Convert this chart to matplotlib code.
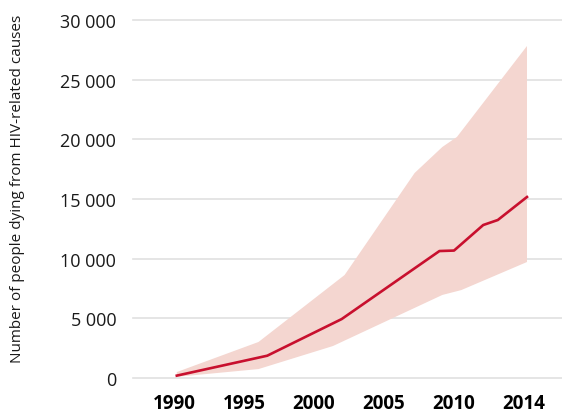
import matplotlib
matplotlib.use("Agg")
import matplotlib.pyplot as plt
import numpy as np

# central estimate
years = [1990, 1996.2, 2001.3, 2008, 2009, 2011, 2012, 2014]
deaths = [200, 1870, 4940, 10640, 10680, 12820, 13240, 15170]

# uncertainty bounds
upper_years = [1990, 1995.6, 2001.5, 2006.3, 2008.2, 2009.2, 2014]
upper = [500, 3020, 8630, 17180, 19360, 20200, 27820]
lower_years = [1990, 1995.6, 2000.7, 2008.2, 2009.5, 2014]
lower = [100, 750, 2680, 6960, 7370, 9720]

yticks = [0, 5000, 10000, 15000, 20000, 25000, 30000]
xtick_labels = ["1990", "1995", "2000", "2005", "2010", "2014"]

plt.rcParams['font.family'] = ['Open Sans', 'DejaVu Sans']

fig = plt.figure(figsize=(5.62, 4.14), dpi=100)
ax = fig.add_axes([0.2367, 0.0845, 0.7633, 0.8648])

# shaded band
band_x = np.concatenate([upper_years, lower_years[::-1]])
band_y = np.concatenate([upper, lower[::-1]])
ax.fill(band_x, band_y, color="#f4d6d0", lw=0, zorder=2)

ax.plot(years, deaths, color="#c8102e", lw=1.9, zorder=3, solid_joinstyle="round")

ax.set_xlim(1987, 2016.4)
ax.set_ylim(0, 30000)

ax.set_yticks(yticks)
ax.set_yticklabels([f"{v:,}".replace(",", " ") for v in yticks], fontsize=13)
ax.grid(axis="y", color="#e0e0e0", lw=1.2, clip_on=False)
ax.set_axisbelow(True)

# labels are evenly spaced along the axis
ax.set_xticks(np.linspace(1989.8, 2013.8, 6))
ax.set_xticklabels(xtick_labels, fontsize=13.5, fontweight="bold")

ax.tick_params(axis="y", length=0, pad=12, colors="#1a1a1a")
ax.tick_params(axis="x", length=0, pad=11, colors="#000000")
for s in ax.spines.values():
    s.set_visible(False)

fig.text(0.032, 1 - 189 / 414, "Number of people dying from HIV-related causes",
         rotation=90, ha="center", va="center", fontsize=11, color="#1a1a1a")

fig.savefig("out.png", dpi=100)
